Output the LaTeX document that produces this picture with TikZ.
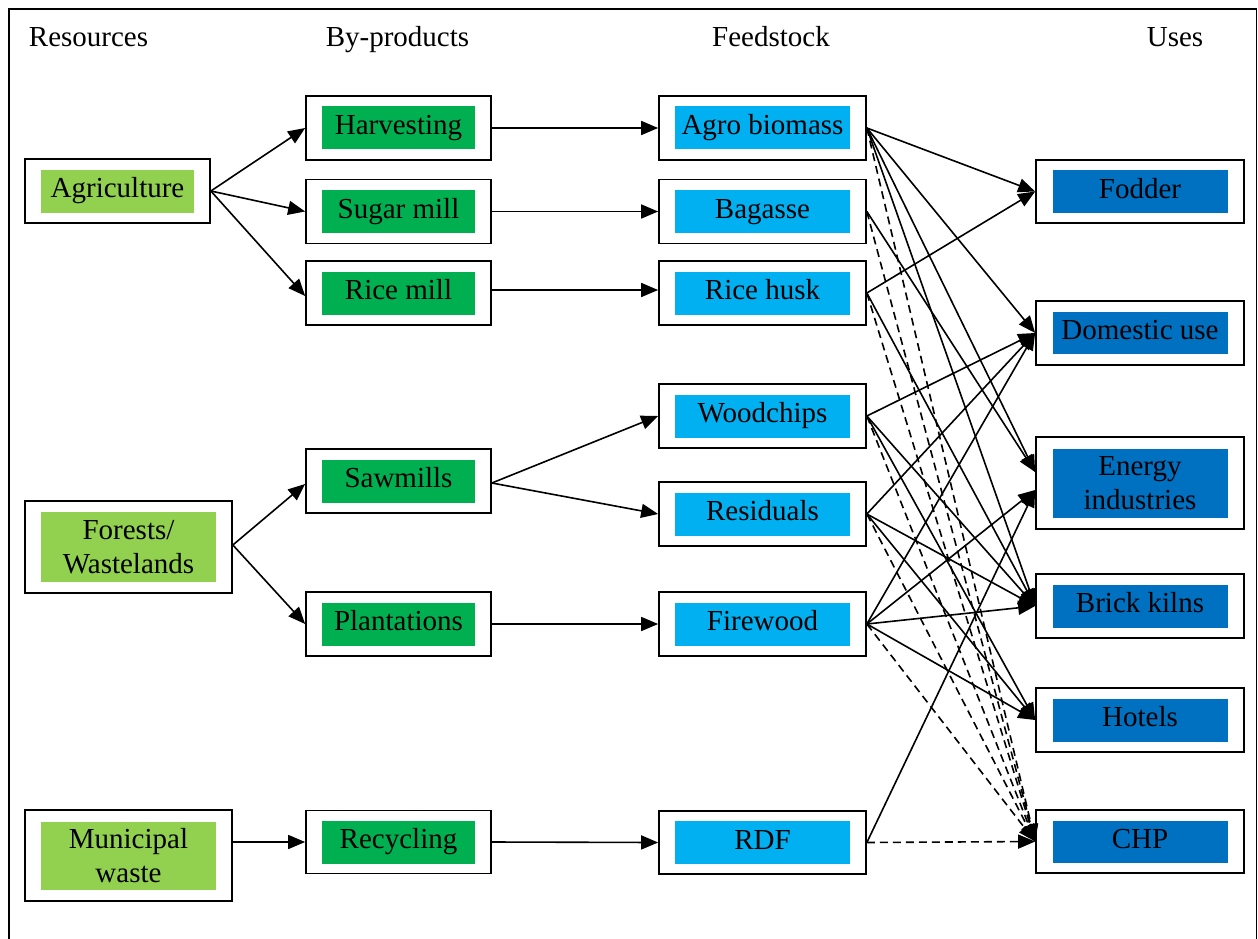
\documentclass[tikz,border=0pt]{standalone}
\usepackage{fontspec}
\setmainfont{Liberation Serif}
\usetikzlibrary{arrows.meta}
\definecolor{resc}{HTML}{92D050}
\definecolor{byc}{HTML}{00B050}
\definecolor{feedc}{HTML}{00B0F0}
\definecolor{usec}{HTML}{0070C0}
\tikzset{
  outerbox/.style={draw, line width=1.7pt, fill=white, inner sep=0pt},
  inbox/.style={inner sep=0pt, font=\fontsize{29}{34}\selectfont},
  oneline/.style={inbox, text height=19.8pt, text depth=6.3pt},
  twoline/.style={inbox, align=center},
  hdr/.style={inner sep=0pt, font=\fontsize{29}{34}\selectfont, anchor=base},
  conn/.style={line width=1.6pt, -{Triangle[length=17pt,width=14pt]}},
  dconn/.style={conn, dash pattern=on 8pt off 5pt},
}
\newcommand{\mkbox}[9]{%
  \node[outerbox, minimum width=#4pt, minimum height=#5pt] (#1) at (#2,#3) {};
  \node[#8, minimum width=#6pt, minimum height=#7pt] (#1in) at (#2,#3) {#9};
}
\begin{document}
\begin{tikzpicture}[x=1pt,y=-1pt]
\useasboundingbox (0,0) rectangle (1258,939);
% frame
\draw[line width=1.8pt] (9,960) -- (9,9) -- (1256.5,9) -- (1256.5,960);
% headers
\node[hdr] (h1) at (88.5,47) {Resources};
\node[hdr] (h2) at (397.5,47) {By-products};
\node[hdr] (h3) at (771,47) {Feedstock};
\node[hdr] (h4) at (1175,47) {Uses};
% resources
\mkbox{agri}{117.5}{191}{185}{64}{153}{43}{oneline, fill=resc}{Agriculture}
\mkbox{fore}{128.5}{547}{207}{92}{175}{70}{twoline, fill=resc}{Forests/\\Wastelands}
\mkbox{muni}{128.5}{855.5}{207}{91}{175}{68}{twoline, fill=resc}{Municipal\\waste}
% by-products
\mkbox{harv}{398.5}{128}{185}{64}{153}{43}{oneline, fill=byc}{Harvesting}
\mkbox{sugm}{398.5}{211.5}{185}{64}{153}{43}{oneline, fill=byc}{Sugar mill}
\mkbox{ricm}{398.5}{293}{185}{64}{153}{43}{oneline, fill=byc}{Rice mill}
\mkbox{sawm}{398.5}{481}{185}{64}{153}{43}{oneline, fill=byc}{Sawmills}
\mkbox{plan}{398.5}{624}{185}{64}{153}{43}{oneline, fill=byc}{Plantations}
\mkbox{recy}{398.5}{842}{185}{63}{153}{43}{oneline, fill=byc}{Recycling}
% feedstock
\mkbox{agro}{762.5}{128}{207}{64}{175}{43}{oneline, fill=feedc}{Agro biomass}
\mkbox{baga}{762.5}{211.5}{207}{64}{175}{43}{oneline, fill=feedc}{Bagasse}
\mkbox{rich}{762.5}{293}{207}{64}{175}{43}{oneline, fill=feedc}{Rice husk}
\mkbox{wood}{762.5}{416}{207}{64}{175}{43}{oneline, fill=feedc}{Woodchips}
\mkbox{resi}{762.5}{514}{207}{64}{175}{43}{oneline, fill=feedc}{Residuals}
\mkbox{fire}{762.5}{624}{207}{64}{175}{43}{oneline, fill=feedc}{Firewood}
\mkbox{rdf}{762.5}{842.5}{207}{63}{175}{43}{oneline, fill=feedc}{RDF}
% uses
\mkbox{fodd}{1140}{191.5}{208}{63}{175}{43}{oneline, fill=usec}{Fodder}
\mkbox{dome}{1140}{333}{208}{64}{175}{42}{oneline, fill=usec}{Domestic use}
\mkbox{ener}{1140}{483}{208}{92}{175}{69}{twoline, fill=usec}{Energy\\industries}
\mkbox{bric}{1140}{606}{208}{64}{175}{43}{oneline, fill=usec}{Brick kilns}
\mkbox{hote}{1140}{720}{208}{64}{175}{43}{oneline, fill=usec}{Hotels}
\mkbox{chp}{1140}{841.5}{208}{63}{175}{42}{oneline, fill=usec}{CHP}
\coordinate (enA) at ([yshift=11pt]ener.west);
\coordinate (enB) at ([yshift=-7pt]ener.west);
% resources -> by-products
\draw[conn] (agri.east) -- (harv.west);
\draw[conn] (agri.east) -- (sugm.west);
\draw[conn] (agri.east) -- ([yshift=-3pt]ricm.west);
\draw[conn] ([yshift=2pt]fore.east) -- ([yshift=-3pt]sawm.west);
\draw[conn] ([yshift=2pt]fore.east) -- (plan.west);
\draw[conn] (muni.east |- recy.west) -- (recy.west);
% by-products -> feedstock
\draw[conn] (harv.east) -- (agro.west);
\draw[conn] (sugm.east) -- (baga.west);
\draw[conn] ([yshift=3pt]ricm.east) -- ([yshift=3pt]rich.west);
\draw[conn] ([yshift=-2pt]sawm.east) -- (wood.west);
\draw[conn] ([yshift=-2pt]sawm.east) -- (resi.west);
\draw[conn] (plan.east) -- (fire.west);
\draw[conn] (recy.east) -- (rdf.west);
% feedstock -> uses
\draw[conn] (agro.east) -- (fodd.west);
\draw[conn] (agro.east) -- (dome.west);
\draw[conn] (agro.east) -- (enA);
\draw[conn] (agro.east) -- (bric.west);
\draw[dconn] (agro.east) -- (chp.west);
\draw[conn] (baga.east) -- (enA);
\draw[dconn] (baga.east) -- (chp.west);
\draw[conn] (rich.east) -- (fodd.west);
\draw[conn] (rich.east) -- (bric.west);
\draw[dconn] (rich.east) -- (chp.west);
\draw[conn] (wood.east) -- (dome.west);
\draw[conn] (wood.east) -- (bric.west);
\draw[conn] (wood.east) -- (hote.west);
\draw[dconn] (wood.east) -- (chp.west);
\draw[conn] (resi.east) -- (dome.west);
\draw[conn] (resi.east) -- (bric.west);
\draw[conn] (resi.east) -- (hote.west);
\draw[dconn] (resi.east) -- (chp.west);
\draw[conn] (fire.east) -- (dome.west);
\draw[conn] (fire.east) -- (enB);
\draw[conn] (fire.east) -- (bric.west);
\draw[conn] (fire.east) -- (hote.west);
\draw[dconn] (fire.east) -- (chp.west);
\draw[conn] (rdf.east) -- (enB);
\draw[dconn] (rdf.east) -- (chp.west);
\end{tikzpicture}
\end{document}
